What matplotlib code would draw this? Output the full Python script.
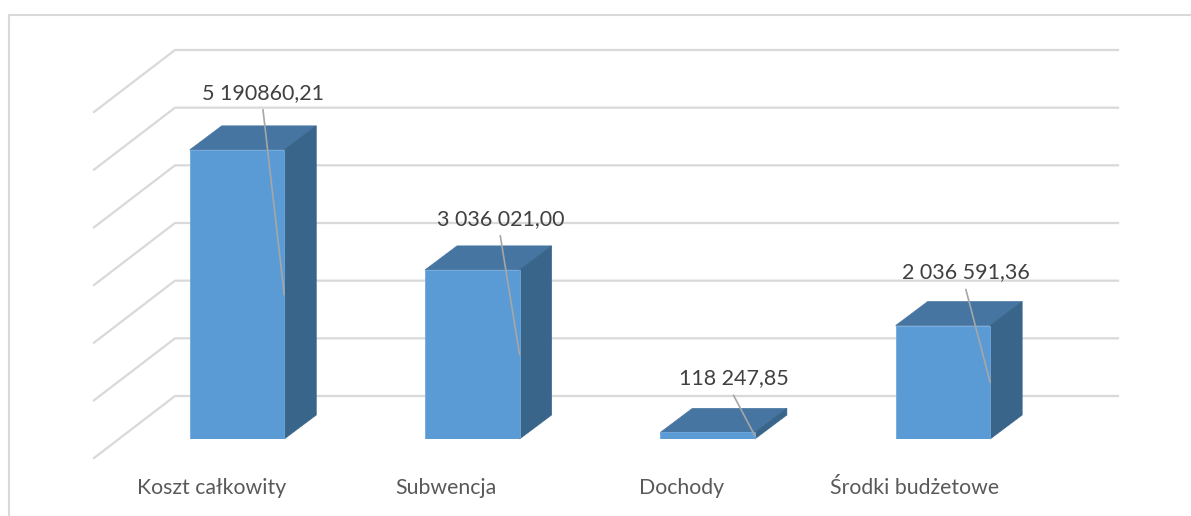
#!/usr/bin/python3
import numpy as np
import matplotlib
matplotlib.use("Agg")
import matplotlib.pyplot as plt
from matplotlib.lines import Line2D
from matplotlib.patches import Polygon

plt.rcParams['font.family'] = ['Lato', 'DejaVu Sans']

# ── Data ──────────────────────────────────────────────────────────────────────
categories = ["Koszt całkowity", "Subwencja", "Dochody", "Środki budżetowe"]
values = [5190860.21, 3036021.00, 118247.85, 2036591.36]
value_labels = ["5 190860,21", "3 036 021,00", "118 247,85", "2 036 591,36"]
wall_ticks = [0, 1000000, 2000000, 3000000, 4000000, 5000000, 6000000]

# ── Layout (pixels of the 1191x516 figure) ────────────────────────────────────
W, H = 1191, 516
FRONT = "#5B9BD5"
SIDE = "#39658A"
TOP = "#4675A2"
GRID = "#D9D9D9"

# label centre relative to bar centre (px), and above the bar top (px)
LABEL_DX = [26, 28, 26, 23]
LABEL_UP = [57, 51, 54, 53]
# category label centre relative to bar centre (px)
CAT_DX = [-25, -26, -26, -28]


def px_axes(fig, left, right, top, bottom):
    return fig.add_axes([left / W, 1 - bottom / H, (right - left) / W, (bottom - top) / H])


fig = plt.figure(figsize=(W / 100, H / 100), dpi=100, facecolor="white")

# chart frame, open at the right and bottom like the original crop
fig.add_artist(Line2D([9 / W, 9 / W], [0, 1 - 15 / H], color=GRID, lw=1.5))
fig.add_artist(Line2D([9 / W, 1], [1 - 15 / H, 1 - 15 / H], color=GRID, lw=1.5))

# ── Back wall with gridlines and their floor-ward returns ─────────────────────
wall = px_axes(fig, 175, 1118, 50, 396)
wall.set_xlim(0, 1)
wall.set_ylim(0, 6000000)
wall.axis("off")
wall_dx = 81 / 943
wall_dy = 62 / 346 * 6000000
for v in wall_ticks:
    wall.plot([-wall_dx, 0, 1], [v - wall_dy, v, v], color=GRID, lw=1.6,
              clip_on=False, solid_joinstyle="miter")

# ── Bars ──────────────────────────────────────────────────────────────────────
step = 235.3
px_per_unit = 55.7 / 1e6
ax = px_axes(fig, 237 - 0.5 * step, 237 + 3.5 * step, 50, 439)
ax.set_xlim(-0.5, 3.5)
ax.set_ylim(0, 389 / px_per_unit)
ax.patch.set_alpha(0)
for s in ax.spines.values():
    s.set_visible(False)
ax.set_yticks([])

x = np.arange(len(categories))
bar_w = 94.5 / step
dx = 32 / step
dy = 24 / px_per_unit

ax.bar(x, values, width=bar_w, color=FRONT, edgecolor="#6FA8DC", linewidth=0.6, zorder=3)
for xi, v in zip(x, values):
    l, r = xi - bar_w / 2, xi + bar_w / 2
    ax.add_patch(Polygon([(l, v), (r, v), (r + dx, v + dy), (l + dx, v + dy)],
                         facecolor=TOP, edgecolor=TOP, lw=0.5, zorder=2, clip_on=False))
    ax.add_patch(Polygon([(r, 0), (r + dx, dy), (r + dx, v + dy), (r, v)],
                         facecolor=SIDE, edgecolor=SIDE, lw=0.5, zorder=2, clip_on=False))

# ── Value labels with leader lines to the middle of the bar's right edge ──────
for xi, v, txt, ldx, lup in zip(x, values, value_labels, LABEL_DX, LABEL_UP):
    lx = xi + ldx / step
    ly = v + lup / px_per_unit
    ax.plot([lx, xi + bar_w / 2], [ly - 17 / px_per_unit, v / 2], color="#A6A6A6",
            lw=1.2, zorder=4, clip_on=False)
    ax.text(lx, ly, txt, ha="center", va="center", fontsize=15.5, color="#404040",
            zorder=5, clip_on=False)

# category labels sit left of the bar centres
ax.set_xticks(x + np.array(CAT_DX) / step, categories)
ax.tick_params(axis="x", length=0, pad=28, labelsize=15.3, labelcolor="#595959")

fig.savefig("out.png", dpi=100)
